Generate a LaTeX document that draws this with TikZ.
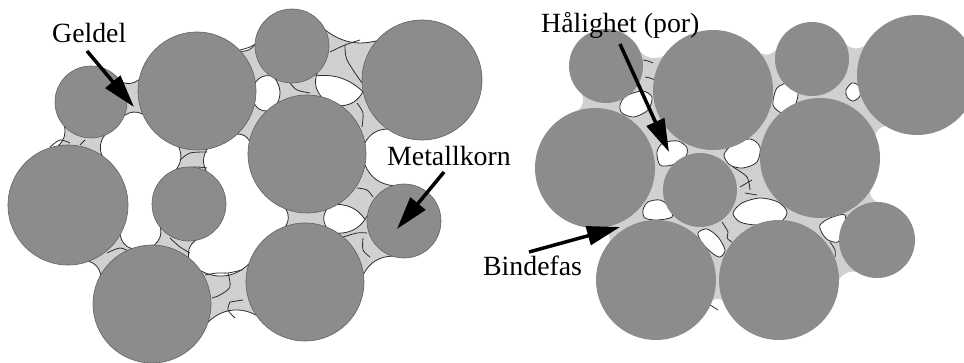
\documentclass[tikz,border=0pt]{standalone}
\usepackage{fontspec}
\setmainfont{Liberation Serif}
\usetikzlibrary{calc,arrows.meta}

\definecolor{grain}{RGB}{140,140,140}
\definecolor{bind}{RGB}{208,208,208}
\definecolor{edge}{RGB}{45,45,45}

\tikzset{
  grainL/.style={fill=grain, draw=edge!75, line width=0.6pt},
  grainR/.style={fill=grain},
  bindL/.style={fill=bind, draw=edge, line width=0.8pt},
  bindR/.style={fill=bind},
  pore/.style={fill=white, draw=edge, line width=0.8pt},
  cell/.style={draw=edge, line width=0.8pt},
  txt/.style={font=\fontsize{27.8}{30}\selectfont, inner sep=0pt, anchor=base west},
  pointer/.style={line width=3.5pt, -{Triangle[length=33pt,width=19pt]}},
}

% binder neck between two grains: style, grain A, grain B, radius A, radius B,
% half contact angle on A, half contact angle on B, meniscus bend
\newcommand\neck[8][bindL]{%
  \path[#1] ($(#2)!#4pt!#6:(#3)$) to[bend right=#8] ($(#3)!#5pt!-#7:(#2)$)
    -- ($(#3)!#5pt!#7:(#2)$) to[bend right=#8] ($(#2)!#4pt!-#6:(#3)$) -- cycle;}

\begin{document}
\begin{tikzpicture}[x=1pt,y=-1pt]
\useasboundingbox (0,0) rectangle (964,363);
\clip (0,0) rectangle (964,363);

% ---------- left structure: grains joined by necks ----------
\coordinate (L1) at (91,102);
\coordinate (L2) at (197,91);
\coordinate (L3) at (292,46);
\coordinate (L4) at (422,80);
\coordinate (L5) at (307,154);
\coordinate (L6) at (68,205);
\coordinate (L7) at (189,204);
\coordinate (L8) at (404,221);
\coordinate (L9) at (152,304);
\coordinate (L10) at (305,282);

\neck{L1}{L2}{36}{59}{28}{17}{30}
\neck{L1}{L6}{36}{60}{35}{22}{30}
\neck{L2}{L3}{59}{37}{17}{28}{30}
\neck{L2}{L5}{59}{59}{17}{17}{30}
\neck{L2}{L7}{59}{37}{14}{24}{30}
\neck{L3}{L4}{37}{60}{40}{26}{25}
\neck{L3}{L5}{37}{59}{35}{22}{30}
\neck{L4}{L5}{60}{59}{22}{22}{30}
\neck{L5}{L8}{59}{37}{24}{38}{30}
\neck{L5}{L10}{59}{59}{20}{20}{30}
\neck{L8}{L10}{37}{59}{40}{24}{30}
\neck{L6}{L9}{60}{59}{20}{20}{30}
\neck{L7}{L9}{37}{59}{30}{18}{30}
\neck{L9}{L10}{59}{59}{26}{26}{36}

% grain boundaries inside the binder
\draw[cell] plot[smooth] coordinates {(240,50) (250,47) (257,43)};
\draw[cell] plot[smooth] coordinates {(330,52) (345,45) (360,40)};
\draw[cell] plot[smooth] coordinates {(345,45) (347,60) (362,83)};
\draw[cell] plot[smooth] coordinates {(290,83) (297,90) (310,93)};
\draw[cell] plot[smooth] coordinates {(357,103) (363,113) (362,127)};
\draw[cell] plot[smooth] coordinates {(180,160) (190,153) (207,152)};
\draw[cell] plot[smooth] coordinates {(183,168) (197,167) (207,168)};
\draw[cell] plot[smooth] coordinates {(170,238) (180,247) (190,253)};
\draw[cell] plot[smooth] coordinates {(107,253) (120,248) (130,252)};
\draw[cell] plot[smooth] coordinates {(205,275) (217,273) (228,273) (242,270)};
\draw[cell] plot[smooth] coordinates {(228,273) (230,287) (220,295) (212,298)};
\draw[cell] plot[smooth] coordinates {(230,302) (228,310) (235,318)};
\draw[cell] plot[smooth] coordinates {(230,302) (243,300)};
\draw[cell] plot[smooth] coordinates {(340,238) (357,233) (367,233)};
\draw[cell] plot[smooth] coordinates {(363,238) (363,250) (370,257)};
\draw[cell] plot[smooth] coordinates {(357,188) (367,190) (373,197)};
\draw[cell] plot[smooth] coordinates {(50,147) (60,140) (70,143)};
\draw[cell] plot[smooth] coordinates {(80,145) (85,140)};

\foreach \c/\r in {L1/36,L2/59,L3/37,L4/60,L5/59,L6/60,L7/37,L8/37,L9/59,L10/59}
  \path[grainL] (\c) circle[radius=\r pt];

% ---------- right structure: dense binder with small pores ----------
\coordinate (R1) at (606,66);
\coordinate (R2) at (713,90);
\coordinate (R3) at (812,59);
\coordinate (R4) at (917,75);
\coordinate (R5) at (595,168);
\coordinate (R6) at (700,190);
\coordinate (R7) at (820,158);
\coordinate (R8) at (877,240);
\coordinate (R9) at (656,280);
\coordinate (R10) at (779,280);

\fill[bind] (R1) -- (R2) -- (R3) -- (R4) -- (R7) -- (R8) -- (R10) -- (R9) -- (R5) -- cycle;
\neck[bindR]{R1}{R2}{37}{60}{35}{22}{35}
\neck[bindR]{R2}{R3}{60}{37}{20}{32}{35}
\neck[bindR]{R3}{R4}{37}{60}{32}{20}{35}
\neck[bindR]{R4}{R7}{60}{60}{18}{18}{35}
\neck[bindR]{R7}{R8}{60}{38}{22}{35}{35}
\neck[bindR]{R8}{R10}{38}{60}{35}{22}{35}
\neck[bindR]{R10}{R9}{60}{60}{20}{20}{35}
\neck[bindR]{R9}{R5}{60}{60}{22}{22}{35}
\neck[bindR]{R5}{R1}{60}{37}{22}{35}{35}

% pores
\draw[pore] plot[smooth cycle] coordinates {(620,105) (626,96) (642,91) (652,97) (648,110) (634,117) (622,113)};
\draw[pore] plot[smooth cycle] coordinates {(657,152) (663,143) (678,141) (687,148) (685,158) (672,165) (660,165)};
\draw[pore] plot[smooth cycle] coordinates {(724,155) (732,145) (750,139) (760,147) (757,162) (743,168) (730,165)};
\draw[pore] plot[smooth cycle] coordinates {(773,105) (777,88) (790,83) (798,93) (793,110) (782,113)};
\draw[pore] plot[smooth cycle] coordinates {(643,210) (648,202) (660,200) (670,207) (672,217) (657,220) (645,218)};
\draw[pore] plot[smooth cycle] coordinates {(733,213) (742,203) (760,198) (778,202) (787,212) (780,222) (757,225) (740,222)};
\draw[pore] plot[smooth cycle] coordinates {(698,233) (707,229) (718,237) (725,250) (720,257) (712,253) (702,243)};
\draw[pore] plot[smooth cycle] coordinates {(820,225) (830,218) (845,215) (843,232) (838,242) (828,240) (822,233)};
\draw[pore] plot[smooth cycle] coordinates {(846,90) (852,83) (859,86) (860,96) (853,101) (847,97)};

% grain boundaries inside the binder
\draw[cell] plot[smooth] coordinates {(643,60) (648,61) (653,63)};
\draw[cell] plot[smooth] coordinates {(645,77) (650,78) (655,80)};
\draw[cell] plot[smooth] coordinates {(733,167) (747,177) (750,190)};
\draw[cell] plot[smooth] coordinates {(740,187) (752,180)};
\draw[cell] plot[smooth] coordinates {(745,193) (757,195)};
\draw[cell] plot[smooth] coordinates {(722,222) (728,232) (727,238) (732,242)};
\draw[cell] plot[smooth] coordinates {(830,242) (835,250) (835,257)};
\draw[cell] plot[smooth] coordinates {(700,300) (710,305) (718,310)};

\foreach \c/\r in {R1/37,R2/60,R3/37,R4/60,R5/60,R6/37,R7/60,R8/38,R9/60,R10/60}
  \path[grainR] (\c) circle[radius=\r pt];

% ---------- labels and pointers ----------
\node[txt] (geldel) at (52,43) {Geldel};
\node[txt] (metall) at (387,166) {Metallkorn};
\node[txt] (hal) at (541,33) {Hålighet (por)};
\node[txt] (binde) at (483,276) {Bindefas};

\coordinate (gS) at (87,51);   \coordinate (gE) at (134,107);
\coordinate (mS) at (444,172); \coordinate (mE) at (397,229);
\coordinate (hS) at (620,44);  \coordinate (hE) at (669,152);
\coordinate (bS) at (529,252); \coordinate (bE) at (620,227);

\draw[pointer] (gS) -- (gE);
\draw[pointer] (mS) -- (mE);
\draw[pointer] (hS) -- (hE);
\draw[pointer] (bS) -- (bE);
\end{tikzpicture}
\end{document}
